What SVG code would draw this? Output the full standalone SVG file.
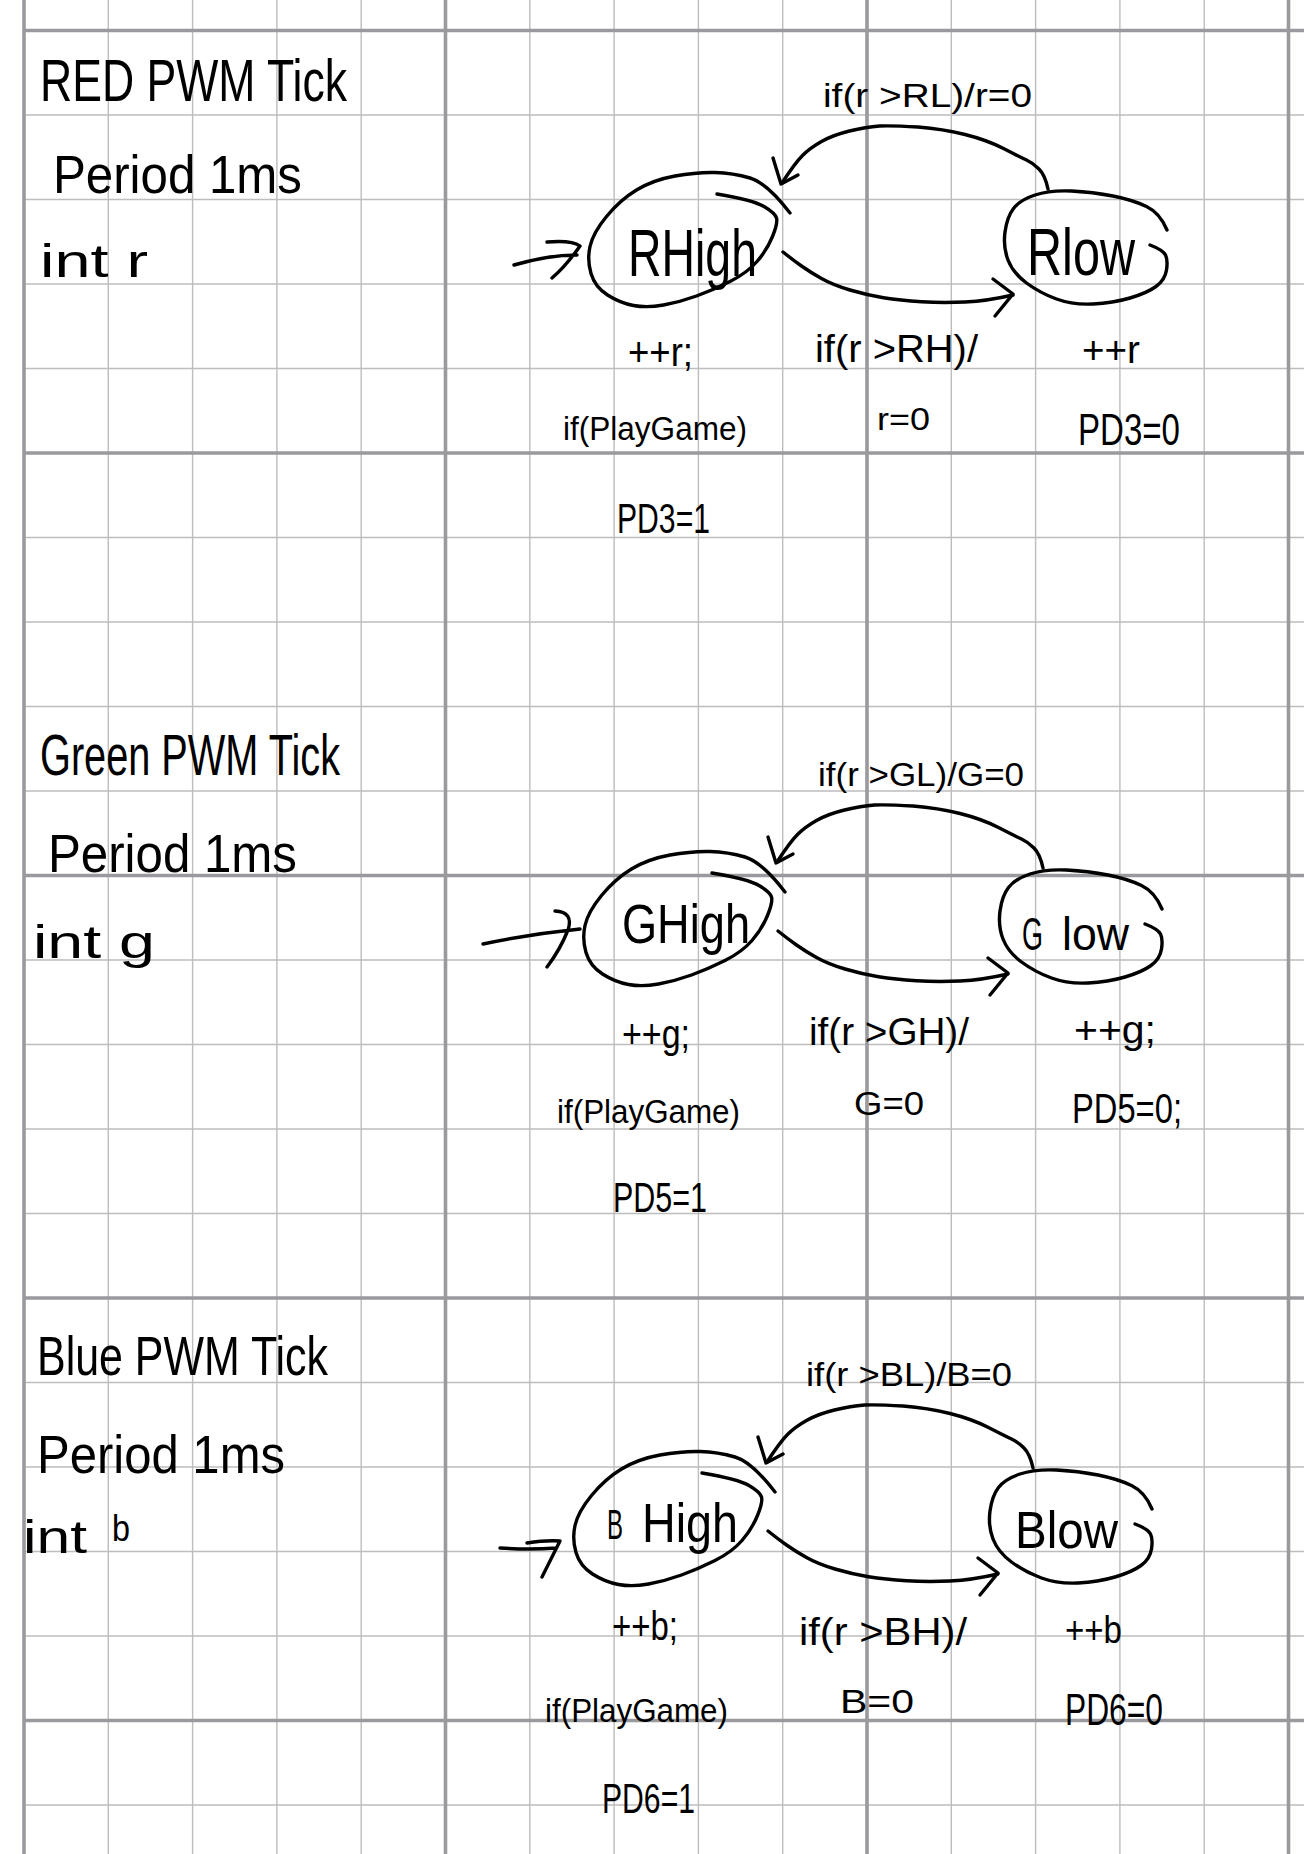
<svg xmlns="http://www.w3.org/2000/svg" xmlns:xlink="http://www.w3.org/1999/xlink" width="1304" height="1854" viewBox="0 0 1304 1854">
<style>
.thin{stroke:#bdbdbd;stroke-width:1.4;fill:none}
.thick{stroke:#9a9a9e;stroke-width:3.6;fill:none}
.ink{fill:none;stroke:#000;stroke-width:3.4;stroke-linecap:round;stroke-linejoin:round}
.hw{font-family:"Liberation Sans Narrow","Liberation Sans",Arial,sans-serif;fill:#000}
</style>
<defs>
<path id="highShape" class="ink" d="M790,213 Q767,183 750,178 Q733,173 715,172.5 Q697,172 675,176 Q653,180 636.5,190 Q620,200 606.5,216.5 Q593,233 590,246.5 Q587,260 591,273.5 Q595,287 607.5,295 Q620,303 633.5,305.5 Q647,308 663.5,305 Q680,302 696.5,296 Q713,290 730,281.5 Q747,273 757,261.5 Q767,250 772.5,236.5 Q778,223 776.5,218 Q775,213 764,206.5 Q753,200 717,194"/>
<path id="lowShape" class="ink" d="M1167,230 Q1160,213 1146.5,206.5 Q1133,200 1113,196 Q1093,192 1071.5,191 Q1050,190 1035,195 Q1020,200 1013.5,208.5 Q1007,217 1005,232 Q1003,247 1008,260 Q1013,273 1026.5,283 Q1040,293 1056.5,299 Q1073,305 1093,304 Q1113,303 1130,298 Q1147,293 1156,286.5 Q1165,280 1166.5,270 Q1168,260 1165.5,255 Q1163,250 1150,245"/>
<g id="arcUpper" class="ink">
<path d="M1048,189 Q1045,175 1039,169 Q1033,163 1026.5,160 Q1020,157 1003.5,148.5 Q987,140 965,134.5 Q943,129 918,127 Q893,125.5 879.5,126 Q866,127 849.5,131 Q833,135 821.5,141.5 Q810,148 802.5,155.5 Q795,163 782,183"/>
<path d="M773,158 L781,184 L798,175"/>
</g>
<g id="arcLower" class="ink">
<path d="M783,252 Q793,260 801.5,266 Q810,272 821.5,278.5 Q833,285 850,290 Q867,295 883.5,297.8 Q900,300.5 921.5,301.8 Q943,303 965,302 Q987,301 1013,295"/>
<path d="M993,279 L1013,294 L995,316"/>
</g>
</defs>

<g id="grid">
<path class="thin" d="M108.3,0V1854M192.6,0V1854M276.9,0V1854M361.2,0V1854M529.8,0V1854M614.1,0V1854M698.4,0V1854M782.7,0V1854M951.3,0V1854M1035.6,0V1854M1119.9,0V1854M1204.2,0V1854"/>
<path class="thin" d="M24,115H1304M24,199.5H1304M24,284H1304M24,368.5H1304M24,537.5H1304M24,622H1304M24,706.5H1304M24,791H1304M24,960H1304M24,1044.5H1304M24,1129H1304M24,1213.5H1304M24,1382.5H1304M24,1467H1304M24,1551.5H1304M24,1636H1304M24,1805H1304"/>
<path class="thick" d="M24,0V1854M445.5,0V1854M867,0V1854M1288.5,0V1854"/>
<path class="thick" d="M24,30.5H1304M24,453H1304M24,875.5H1304M24,1298H1304M24,1720.5H1304"/>
</g>

<g id="headers">
<text class="hw" x="40" y="101" font-size="60" textLength="307" lengthAdjust="spacingAndGlyphs">RED PWM Tick</text>
<text class="hw" x="53" y="193" font-size="54" textLength="249" lengthAdjust="spacingAndGlyphs">Period 1ms</text>
<text class="hw" x="40" y="277" font-size="46" textLength="108" lengthAdjust="spacingAndGlyphs">int r</text>

<text class="hw" x="40" y="775" font-size="58" textLength="300" lengthAdjust="spacingAndGlyphs">Green PWM Tick</text>
<text class="hw" x="48" y="872" font-size="54" textLength="249" lengthAdjust="spacingAndGlyphs">Period 1ms</text>
<text class="hw" x="33" y="958" font-size="46" textLength="122" lengthAdjust="spacingAndGlyphs">int g</text>

<text class="hw" x="37" y="1375" font-size="56" textLength="291" lengthAdjust="spacingAndGlyphs">Blue PWM Tick</text>
<text class="hw" x="37" y="1473" font-size="54" textLength="248" lengthAdjust="spacingAndGlyphs">Period 1ms</text>
<text class="hw" y="1553" font-size="46"><tspan x="23" textLength="64" lengthAdjust="spacingAndGlyphs">int</tspan> <tspan x="112" y="1541" font-size="36" textLength="18" lengthAdjust="spacingAndGlyphs">b</tspan></text>
</g>

<g id="RHigh">
<use xlink:href="#highShape"/>
<text class="hw" x="628" y="276" font-size="66" textLength="129" lengthAdjust="spacingAndGlyphs">RHigh</text>
<text class="hw" x="628" y="366" font-size="40" textLength="65" lengthAdjust="spacingAndGlyphs">++r;</text>
<text class="hw" x="563" y="440" font-size="34" textLength="184" lengthAdjust="spacingAndGlyphs">if(PlayGame)</text>
<text class="hw" x="617" y="533" font-size="42" textLength="93" lengthAdjust="spacingAndGlyphs">PD3=1</text>
</g>
<g id="Rlow">
<use xlink:href="#lowShape"/>
<text class="hw" x="1027" y="275" font-size="66" textLength="108" lengthAdjust="spacingAndGlyphs">Rlow</text>
<text class="hw" x="1082" y="363" font-size="38" textLength="58" lengthAdjust="spacingAndGlyphs">++r</text>
<text class="hw" x="1078" y="445" font-size="45" textLength="102" lengthAdjust="spacingAndGlyphs">PD3=0</text>
</g>

<g id="GHigh">
<use xlink:href="#highShape" transform="translate(-5,679)"/>
<text class="hw" x="622" y="943" font-size="56" textLength="128" lengthAdjust="spacingAndGlyphs">GHigh</text>
<text class="hw" x="622" y="1048" font-size="40" textLength="68" lengthAdjust="spacingAndGlyphs">++g;</text>
<text class="hw" x="557" y="1123" font-size="34" textLength="183" lengthAdjust="spacingAndGlyphs">if(PlayGame)</text>
<text class="hw" x="613" y="1212" font-size="42" textLength="94" lengthAdjust="spacingAndGlyphs">PD5=1</text>
</g>
<g id="Glow">
<use xlink:href="#lowShape" transform="translate(-5,679)"/>
<text class="hw" y="950" font-size="46"><tspan x="1022" textLength="21" lengthAdjust="spacingAndGlyphs">G</tspan> <tspan x="1062" textLength="67" lengthAdjust="spacingAndGlyphs">low</tspan></text>
<text class="hw" x="1074" y="1043" font-size="38" textLength="82" lengthAdjust="spacingAndGlyphs">++g;</text>
<text class="hw" x="1072" y="1123" font-size="42" textLength="110" lengthAdjust="spacingAndGlyphs">PD5=0;</text>
</g>

<g id="BHigh">
<use xlink:href="#highShape" transform="translate(-15,1279)"/>
<text class="hw" y="1542" font-size="56"><tspan x="607" y="1539" font-size="42" textLength="16" lengthAdjust="spacingAndGlyphs">B</tspan> <tspan x="642" y="1542" textLength="96" lengthAdjust="spacingAndGlyphs">High</tspan></text>
<text class="hw" x="612" y="1640" font-size="40" textLength="66" lengthAdjust="spacingAndGlyphs">++b;</text>
<text class="hw" x="545" y="1722" font-size="34" textLength="183" lengthAdjust="spacingAndGlyphs">if(PlayGame)</text>
<text class="hw" x="602" y="1813" font-size="42" textLength="93" lengthAdjust="spacingAndGlyphs">PD6=1</text>
</g>
<g id="Blow">
<use xlink:href="#lowShape" transform="translate(-15,1279)"/>
<text class="hw" x="1015" y="1548" font-size="52" textLength="103" lengthAdjust="spacingAndGlyphs">Blow</text>
<text class="hw" x="1065" y="1643" font-size="38" textLength="57" lengthAdjust="spacingAndGlyphs">++b</text>
<text class="hw" x="1065" y="1725" font-size="44" textLength="98" lengthAdjust="spacingAndGlyphs">PD6=0</text>
</g>

<g id="connectors">
<path class="ink" d="M514,265 Q548,255 577,255 M547,242 Q572,240 580,246 Q566,266 552,278"/>
<use xlink:href="#arcUpper"/>
<use xlink:href="#arcLower"/>
<text class="hw" x="823" y="107" font-size="33" textLength="209" lengthAdjust="spacingAndGlyphs">if(r &gt;RL)/r=0</text>
<text class="hw" x="815" y="362" font-size="38" textLength="163" lengthAdjust="spacingAndGlyphs">if(r &gt;RH)/</text>
<text class="hw" x="877" y="430" font-size="32" textLength="53" lengthAdjust="spacingAndGlyphs">r=0</text>

<path class="ink" d="M483,944 Q530,934 580,929 M555,911 Q574,912 568,930 Q560,950 547,967"/>
<use xlink:href="#arcUpper" transform="translate(-5,679)"/>
<use xlink:href="#arcLower" transform="translate(-5,679)"/>
<text class="hw" x="818" y="786" font-size="33" textLength="206" lengthAdjust="spacingAndGlyphs">if(r &gt;GL)/G=0</text>
<text class="hw" x="809" y="1045" font-size="38" textLength="160" lengthAdjust="spacingAndGlyphs">if(r &gt;GH)/</text>
<text class="hw" x="854" y="1115" font-size="34" textLength="70" lengthAdjust="spacingAndGlyphs">G=0</text>

<path class="ink" d="M500,1548 Q530,1550 556,1548 M527,1543 Q546,1540 560,1541 L542,1577"/>
<use xlink:href="#arcUpper" transform="translate(-15,1279)"/>
<use xlink:href="#arcLower" transform="translate(-15,1279)"/>
<text class="hw" x="806" y="1386" font-size="33" textLength="206" lengthAdjust="spacingAndGlyphs">if(r &gt;BL)/B=0</text>
<text class="hw" x="799" y="1645" font-size="38" textLength="168" lengthAdjust="spacingAndGlyphs">if(r &gt;BH)/</text>
<text class="hw" x="840" y="1713" font-size="34" textLength="74" lengthAdjust="spacingAndGlyphs">B=0</text>
</g>
</svg>
